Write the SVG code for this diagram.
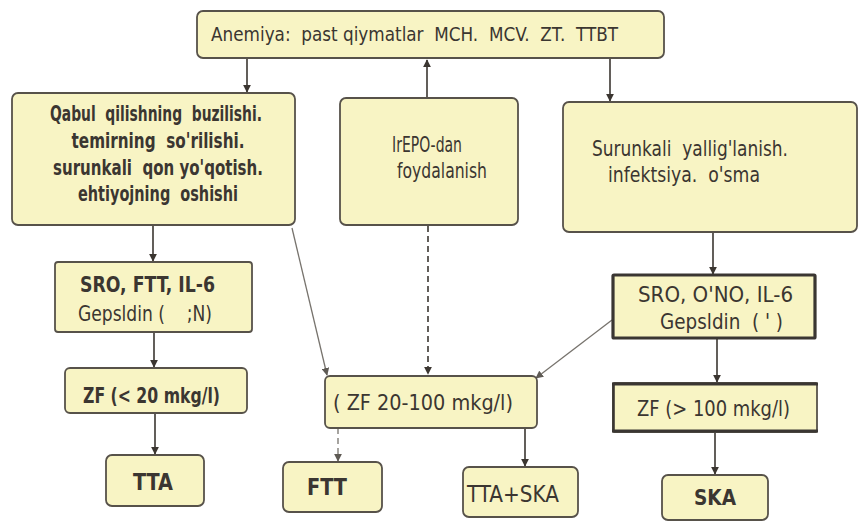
<svg xmlns="http://www.w3.org/2000/svg" width="861" height="522" viewBox="0 0 861 522">
  <style>
    .box { fill: #f8f4c4; stroke: #57524a; stroke-width: 1.8; }
    .heavy { stroke: #3a3632; stroke-width: 3.2; }
    .t { font-family: "DejaVu Sans Condensed", "Liberation Sans", sans-serif; font-size: 20px; fill: #3b3631; white-space: pre; }
    .s21 { font-size: 21px; }
    .s22 { font-size: 22px; }
    .s23 { font-size: 23px; }
    .b { font-weight: bold; }
    .c { text-anchor: middle; }
    .ln { stroke: #3b3631; stroke-width: 1.6; fill: none; }
    .thin { stroke: #77736d; stroke-width: 1.3; fill: none; }
    .dash { stroke-dasharray: 6 4; }
  </style>
  <defs>
    <marker id="ah" viewBox="0 0 10 10" refX="9" refY="5" markerWidth="5" markerHeight="5" orient="auto">
      <path d="M0,0 L10,5 L0,10 z" fill="#3b3631"/>
    </marker>
    <marker id="ahg" viewBox="0 0 10 10" refX="9" refY="5" markerWidth="6" markerHeight="6" orient="auto">
      <path d="M0,0 L10,5 L0,10 z" fill="#5e5a54"/>
    </marker>
  </defs>
  <rect width="861" height="522" fill="#ffffff"/>

  <!-- connectors -->
  <g id="connectors">
    <line class="ln" x1="247" y1="58" x2="247" y2="92" marker-end="url(#ah)"/>
    <line class="ln" x1="427" y1="98" x2="427" y2="60" marker-end="url(#ah)"/>
    <line class="ln" x1="610" y1="58" x2="610" y2="101" marker-end="url(#ah)"/>
    <line class="ln" x1="153" y1="225" x2="153" y2="261" marker-end="url(#ah)"/>
    <line class="ln" x1="154" y1="332" x2="154" y2="367" marker-end="url(#ah)"/>
    <line class="ln" x1="155" y1="413" x2="155" y2="454" marker-end="url(#ah)"/>
    <line class="thin" x1="292" y1="228" x2="327" y2="375" marker-end="url(#ahg)"/>
    <line class="ln dash" x1="428" y1="226" x2="428" y2="374" marker-end="url(#ah)"/>
    <line class="thin" x1="612" y1="320" x2="536" y2="378" marker-end="url(#ahg)"/>
    <line class="thin dash" x1="338" y1="428" x2="338" y2="461" marker-end="url(#ahg)"/>
    <line class="ln" x1="525" y1="428" x2="525" y2="466" marker-end="url(#ah)"/>
    <line class="ln" x1="713" y1="232" x2="713" y2="274" marker-end="url(#ah)"/>
    <line class="ln" x1="717" y1="338" x2="717" y2="382" marker-end="url(#ah)"/>
    <line class="ln" x1="715" y1="432" x2="715" y2="474" marker-end="url(#ah)"/>
  </g>

  <g id="anemiya">
    <rect class="box" x="197" y="11" width="467" height="47" rx="6"/>
    <text class="t" x="211" y="41" textLength="407" lengthAdjust="spacingAndGlyphs">Anemiya:  past qiymatlar  MCH.  MCV.  ZT.  TTBT</text>
  </g>

  <g id="qabul">
    <rect class="box" x="12" y="93" width="283" height="132" rx="6"/>
    <text class="t s22 b c" x="156" y="121" textLength="212" lengthAdjust="spacingAndGlyphs">Qabul  qilishning  buzilishi.</text>
    <text class="t s22 b c" x="158" y="148" textLength="173" lengthAdjust="spacingAndGlyphs">temirning  so'rilishi.</text>
    <text class="t s22 b c" x="158" y="175" textLength="210" lengthAdjust="spacingAndGlyphs">surunkali  qon yo'qotish.</text>
    <text class="t s22 b c" x="158" y="201" textLength="160" lengthAdjust="spacingAndGlyphs">ehtiyojning  oshishi</text>
  </g>

  <g id="irepo">
    <rect class="box" x="340" y="98" width="178" height="127" rx="6"/>
    <text class="t s21" x="392" y="152" textLength="70" lengthAdjust="spacingAndGlyphs">IrEPO-dan</text>
    <text class="t s21" x="397" y="178" textLength="90" lengthAdjust="spacingAndGlyphs">foydalanish</text>
  </g>

  <g id="surunkali">
    <rect class="box" x="563" y="102" width="294" height="130" rx="6"/>
    <text class="t s21" x="592" y="156" textLength="196" lengthAdjust="spacingAndGlyphs">Surunkali  yallig'lanish.</text>
    <text class="t s21" x="608" y="182" textLength="152" lengthAdjust="spacingAndGlyphs">infektsiya.  o'sma</text>
  </g>

  <g id="sro-left">
    <rect class="box" x="55" y="262" width="197" height="70" rx="3"/>
    <text class="t s22 b" x="80" y="292" textLength="135" lengthAdjust="spacingAndGlyphs">SRO, FTT, IL-6</text>
    <text class="t s22" x="78" y="321" textLength="134" lengthAdjust="spacingAndGlyphs">Gepsldin (    ;N)</text>
  </g>

  <g id="zf-low">
    <rect class="box" x="65" y="368" width="182" height="45" rx="5"/>
    <text class="t s22 b" x="83" y="403" textLength="137" lengthAdjust="spacingAndGlyphs">ZF (&lt; 20 mkg/l)</text>
  </g>

  <g id="tta">
    <rect class="box" x="106" y="455" width="98" height="51" rx="6"/>
    <text class="t s23 b" x="133" y="490" textLength="40" lengthAdjust="spacingAndGlyphs">TTA</text>
  </g>

  <g id="zf-mid">
    <rect class="box" x="325" y="376" width="212" height="52" rx="5"/>
    <text class="t s22" x="333" y="410" textLength="180" lengthAdjust="spacingAndGlyphs">( ZF 20-100 mkg/l)</text>
  </g>

  <g id="ftt">
    <rect class="box" x="283" y="462" width="99" height="50" rx="6"/>
    <text class="t s23 b" x="307" y="495" textLength="40" lengthAdjust="spacingAndGlyphs">FTT</text>
  </g>

  <g id="tta-ska">
    <rect class="box" x="463" y="467" width="115" height="50" rx="6"/>
    <text class="t s23" x="467" y="502" textLength="92" lengthAdjust="spacingAndGlyphs">TTA+SKA</text>
  </g>

  <g id="sro-right">
    <rect class="box heavy" x="613" y="275" width="202" height="63" rx="1"/>
    <text class="t s22" x="638" y="302" textLength="155" lengthAdjust="spacingAndGlyphs">SRO, O'NO, IL-6</text>
    <text class="t s22" x="660" y="329" textLength="123" lengthAdjust="spacingAndGlyphs">Gepsldin  ( ' )</text>
  </g>

  <g id="zf-high">
    <rect class="box" x="613" y="383" width="204" height="49" rx="1"/>
    <line x1="612" y1="384" x2="818" y2="384" stroke="#3a3632" stroke-width="3"/>
    <line x1="612" y1="431" x2="818" y2="431" stroke="#3a3632" stroke-width="3"/>
    <line x1="613.5" y1="384" x2="613.5" y2="431" stroke="#3a3632" stroke-width="2.6"/>
    <text class="t s22" x="637" y="416" textLength="153" lengthAdjust="spacingAndGlyphs">ZF (&gt; 100 mkg/l)</text>
  </g>

  <g id="ska">
    <rect class="box" x="662" y="475" width="106" height="45" rx="6"/>
    <text class="t s21 b" x="694" y="505" textLength="42" lengthAdjust="spacingAndGlyphs">SKA</text>
  </g>
</svg>
